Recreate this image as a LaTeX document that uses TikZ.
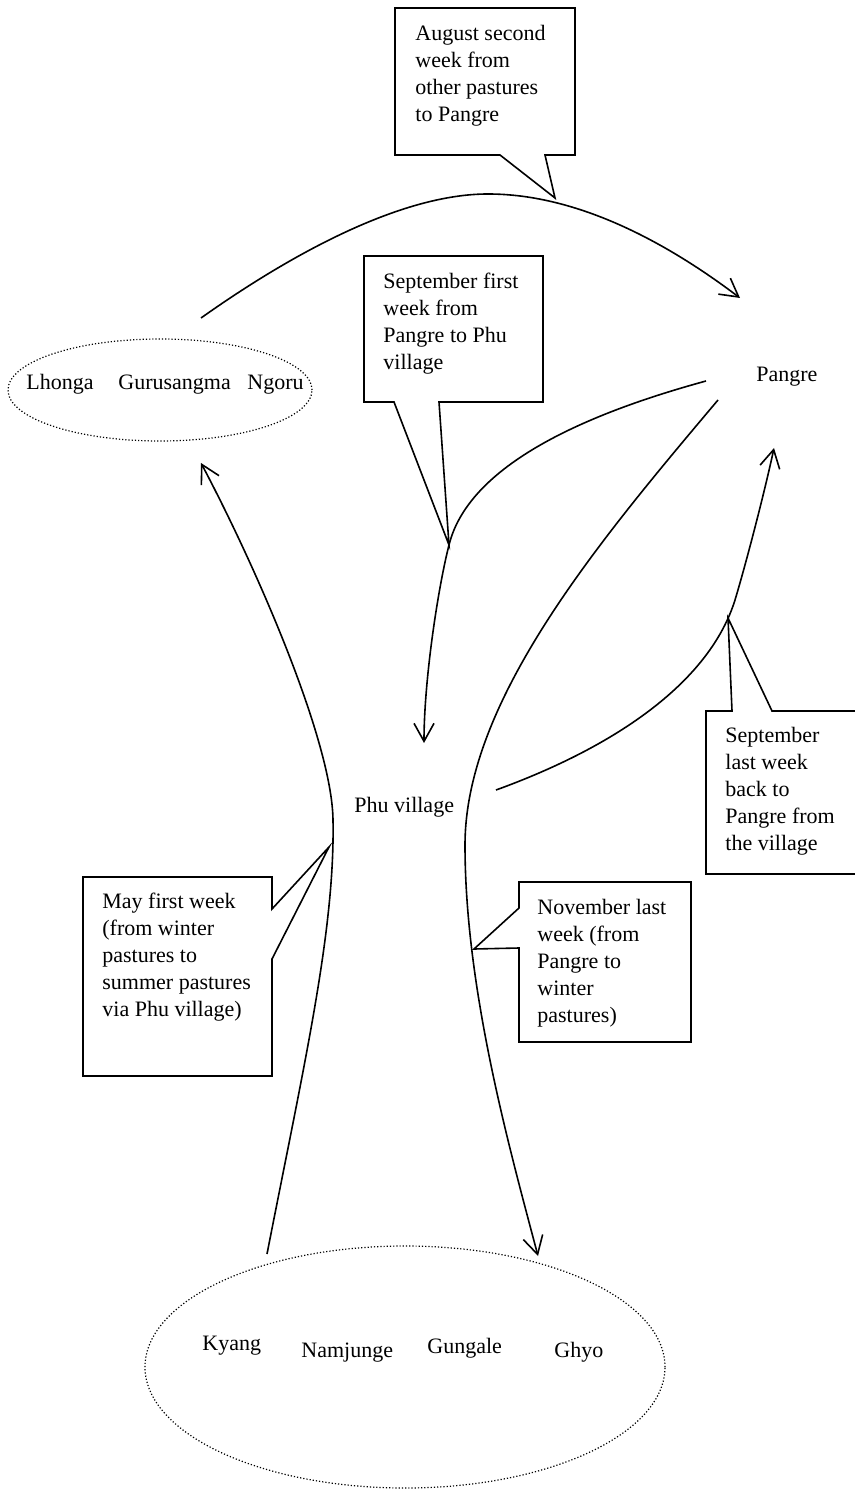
\documentclass[tikz,border=0pt]{standalone}
\usepackage{fontspec}
\setmainfont{Liberation Serif}
\usetikzlibrary{arrows.meta,shapes.geometric}

\tikzset{
  lbl/.style={anchor=base west, inner sep=0pt, font=\fontsize{11}{13.5}\selectfont},
  note/.style={anchor=north west, inner sep=0pt, align=left, font=\fontsize{11}{13.5}\selectfont},
  move/.style={line width=0.8pt, -{Straight Barb[length=9pt,width=10pt]}},
  callout/.style={line width=0.8pt, line join=miter},
  pasture/.style={ellipse, draw, densely dotted, line width=0.6pt, inner sep=0pt}
}

\begin{document}
\begin{tikzpicture}[x=0.5pt,y=-0.5pt]
\useasboundingbox (0,0) rectangle (855,1491);
% pastures and places
\node[pasture, minimum width=152pt, minimum height=51pt] (summer) at (160,390) {};
\node[pasture, minimum width=260pt, minimum height=121pt] (winter) at (405,1367) {};
\node[lbl] (lh) at (26,390) {Lhonga};
\node[lbl] (gu) at (118,390) {Gurusangma};
\node[lbl] (ng) at (247,390) {Ngoru};
\node[lbl] (ky) at (202,1350) {Kyang};
\node[lbl] (na) at (301,1357) {Namjunge};
\node[lbl] (gn) at (427,1353) {Gungale};
\node[lbl] (gh) at (554,1357) {Ghyo};
\node[lbl] (pangre) at (756,382) {Pangre};
\node[lbl] (phu) at (354,812) {Phu village};
% ends of the moves
\coordinate (arcS) at (201,318);
\coordinate (arcM) at (488,194);
\coordinate (arcE) at (740,298);
\coordinate (aS) at (706,381);
\coordinate (aM) at (449,545);
\coordinate (aE) at (424,743);
\coordinate (bS) at (718,400);
\coordinate (bM) at (465,845);
\coordinate (bE) at (538,1256);
\coordinate (cS) at (496,790);
\coordinate (cM) at (735,600);
\coordinate (cE) at (774,448);
\coordinate (dS) at (267,1254);
\coordinate (dM) at (333,820);
\coordinate (dE) at (201,463);
% moves
\draw[move] (arcS) .. controls (290,255) and (400,194) .. (arcM) .. controls (580,194) and (670,245) .. (arcE);
\draw[move] (aS) .. controls (600,410) and (470,460) .. (aM) .. controls (438,588) and (424,680) .. (aE);
\draw[move] (bS) .. controls (600,540) and (465,700) .. (bM) .. controls (465,990) and (510,1150) .. (bE);
\draw[move] (cS) .. controls (620,745) and (710,680) .. (cM) .. controls (747,560) and (765,490) .. (cE);
\draw[move] (dS) .. controls (305,1060) and (335,930) .. (dM) .. controls (332,740) and (255,565) .. (dE);
% callouts
\draw[callout] (395,8) -- (575,8) -- (575,155) -- (545,155) -- (555,198) -- (500,155) -- (395,155) -- cycle;
\node[note] (aug) at (415,25) {August second\\week from\\other pastures\\to Pangre};
\draw[callout] (364,256) -- (543,256) -- (543,402) -- (439,402) -- (449,545) -- (394,402) -- (364,402) -- cycle;
\node[note] (sep1) at (383,273) {September first\\week from\\Pangre to Phu\\village};
\draw[callout] (855,874) -- (706,874) -- (706,711) -- (732,711) -- (728,618) -- (772,711) -- (855,711);
\node[note] (sep2) at (725,727) {September\\last week\\back to\\Pangre from\\the village};
\draw[callout] (83,877) -- (272,877) -- (272,909) -- (329,847) -- (272,959) -- (272,1076) -- (83,1076) -- cycle;
\node[note] (may) at (102,893) {May first week\\(from winter\\pastures to\\summer pastures\\via Phu village)};
\draw[callout] (519,882) -- (691,882) -- (691,1042) -- (519,1042) -- (519,948) -- (474,949) -- (519,908) -- cycle;
\node[note] (nov) at (537,899) {November last\\week (from\\Pangre to\\winter\\pastures)};
\end{tikzpicture}
\end{document}
